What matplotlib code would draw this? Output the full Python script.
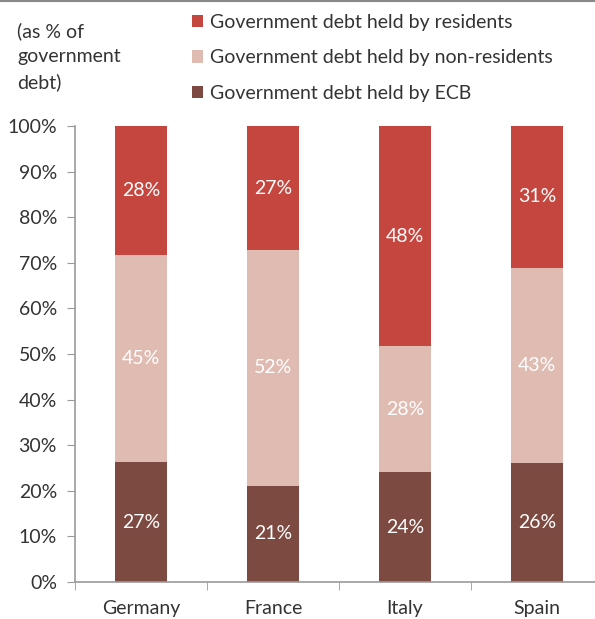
import numpy as np
import matplotlib
matplotlib.use('Agg')
import matplotlib.pyplot as plt
from matplotlib.lines import Line2D
from matplotlib.ticker import FixedLocator

plt.rcParams['font.family'] = ['Lato', 'DejaVu Sans']

countries = ['Germany', 'France', 'Italy', 'Spain']
ecb = [26.3, 21.1, 24.1, 26.1]
non_residents = [45.4, 51.7, 27.6, 42.8]
residents = [28.3, 27.2, 48.3, 31.1]
ecb_labels = ['27%', '21%', '24%', '26%']
nonres_labels = ['45%', '52%', '28%', '43%']
res_labels = ['28%', '27%', '48%', '31%']

series_names = ['Government debt held by residents',
                'Government debt held by non-residents',
                'Government debt held by ECB']
c_res = '#C4463F'
c_non = '#E0BBB2'
c_ecb = '#7D4A41'
txt = '#333333'
grey = '#9a9a9a'
fs = 14

fig = plt.figure(figsize=(5.95, 6.19), dpi=100)
ax = fig.add_axes([75/595, 37/619, 528/595, 456/619])

x = np.arange(len(countries))
w = 0.4
b1 = ax.bar(x, ecb, w, color=c_ecb)
b2 = ax.bar(x, non_residents, w, bottom=ecb, color=c_non)
bottom3 = np.array(ecb) + np.array(non_residents)
b3 = ax.bar(x, residents, w, bottom=bottom3, color=c_res)

for bars, labs in [(b1, ecb_labels), (b2, nonres_labels), (b3, res_labels)]:
    ax.bar_label(bars, labels=labs, label_type='center', color='white', fontsize=fs)

ax.set_xlim(-0.5, 3.5)
ax.set_ylim(0, 100)
ax.set_yticks(np.arange(0, 101, 10))
ax.set_yticklabels([f'{v}%' for v in range(0, 101, 10)])
ax.set_xticks(x)
ax.set_xticklabels(countries)
ax.xaxis.set_minor_locator(FixedLocator([-0.5, 0.5, 1.5, 2.5, 3.5]))
ax.tick_params(axis='x', which='major', length=0, pad=13, labelsize=fs, labelcolor=txt)
ax.tick_params(axis='x', which='minor', length=6, color=grey, direction='out')
ax.tick_params(axis='y', length=6, color=grey, labelsize=fs, labelcolor=txt, pad=7)

for s in ['top', 'right']:
    ax.spines[s].set_visible(False)
for s in ['left', 'bottom']:
    ax.spines[s].set_color(grey)
    ax.spines[s].set_linewidth(1.2)

fig.text(17/595, 1 - 22/619, '(as % of\ngovernment\ndebt)', ha='left', va='top',
         fontsize=fs, color=txt, linespacing=1.55)

handles = [b3, b2, b1]
fig.legend(handles, series_names, loc='upper left', bbox_to_anchor=(184/595, 1 - 6/619),
           frameon=False, fontsize=fs, labelcolor=txt, handlelength=0.6, handleheight=0.6,
           handletextpad=0.35, labelspacing=0.95, borderaxespad=0)

fig.add_artist(Line2D([0, 1], [0.999, 0.999], color='#888888', lw=1.5, transform=fig.transFigure))

fig.savefig('out.png', dpi=100)
